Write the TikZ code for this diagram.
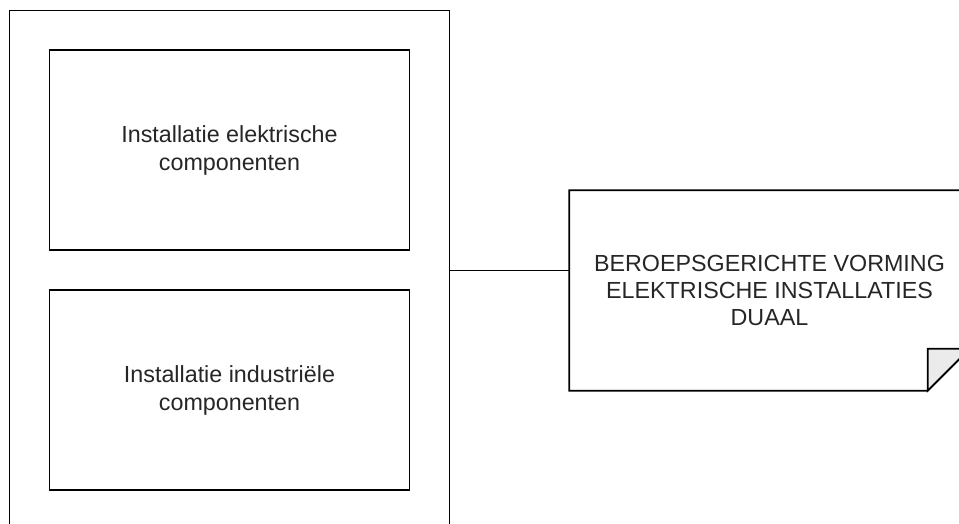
\documentclass[tikz,border=0pt]{standalone}
\usepackage{fontspec}
\setmainfont{Liberation Sans}
\usetikzlibrary{backgrounds}
\begin{document}
\begin{tikzpicture}[x=1pt,y=-1pt,
  box/.style={draw=black, line width=1.8pt, fill=white, rectangle, inner sep=0pt, align=center, text=black!85},
  boxfont/.style={font=\fontsize{23.3}{28}\selectfont},
  notefont/.style={font=\fontsize{23.3}{27}\selectfont}]
\useasboundingbox (0,0) rectangle (959,524);
\clip (0,0) rectangle (959,524);
% outer container
\node[box, minimum width=440pt, minimum height=520pt] (outer) at (229.5,270.5) {};
% inner boxes
\node[box, boxfont, minimum width=360pt, minimum height=200pt] (b1) at (229.5,150) {Installatie elektrische\\componenten};
\node[box, boxfont, minimum width=360pt, minimum height=200pt] (b2) at (229.5,390) {Installatie industriële\\componenten};
% note shape
\node[inner sep=0pt, minimum width=400pt, minimum height=200pt, align=center, text=black!85, notefont] (note) at (769.5,290.5) {BEROEPSGERICHTE VORMING\\ELEKTRISCHE INSTALLATIES\\DUAAL};
\begin{scope}[on background layer]
\fill[white] (0,0) rectangle (959,524);
\draw[line width=1.8pt, line join=miter, fill=white]
  (note.north west) -- (note.north east) -- ([yshift=42pt]note.south east)
  -- ([xshift=-42pt]note.south east) -- (note.south west) -- cycle;
\filldraw[line width=1.8pt, fill=black!8, line join=miter]
  ([xshift=-42pt]note.south east) -- ([xshift=-42pt,yshift=42pt]note.south east) -- ([yshift=42pt]note.south east) -- cycle;
\end{scope}
% connector
\draw[line width=1.8pt] (outer.east) -- (outer.east -| note.west);
\end{tikzpicture}
\end{document}
